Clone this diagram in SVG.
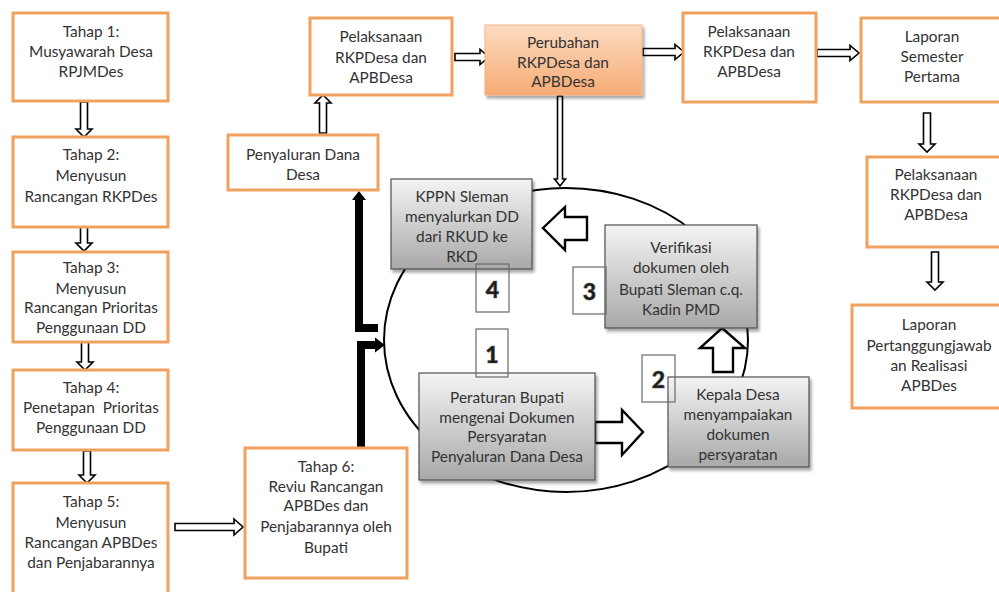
<svg xmlns="http://www.w3.org/2000/svg" width="999" height="592" viewBox="0 0 999 592">
  <defs>
    <linearGradient id="greyFill" x1="0" y1="0" x2="0" y2="1">
      <stop offset="0" stop-color="#f4f4f4"/>
      <stop offset="1" stop-color="#a8a8a8"/>
    </linearGradient>
    <linearGradient id="peachFill" x1="0" y1="0" x2="0" y2="1">
      <stop offset="0" stop-color="#fcdcc2"/>
      <stop offset="1" stop-color="#f7ab74"/>
    </linearGradient>
    <filter id="shadow" x="-10%" y="-10%" width="125%" height="130%">
      <feDropShadow dx="2" dy="3" stdDeviation="1.8" flood-color="#000" flood-opacity="0.35"/>
    </filter>
    <style>
      .ob { fill: #fff; stroke: #f1a15f; stroke-width: 3; }
      .gb { fill: url(#greyFill); stroke: #505050; stroke-width: 1.2; filter: url(#shadow); }
      .pb { fill: url(#peachFill); stroke: #f4b183; stroke-width: 1; filter: url(#shadow); }
      .nb { fill: none; stroke: #6a6a6a; stroke-width: 1.2; }
      .t { font-family: Lato, "Liberation Sans", sans-serif; font-size: 15.4px; fill: #333; text-anchor: middle; }
      .n { font-family: Lato, "Liberation Sans", sans-serif; font-size: 23px; font-weight: 900; fill: #1a1a1a; text-anchor: middle; stroke: #555; stroke-width: 0.6; }
      .ha { fill: #fff; stroke: #000; stroke-width: 1.6; stroke-linejoin: miter; }
      .ba { fill: #fff; stroke: #000; stroke-width: 2.4; stroke-linejoin: miter; }
      .thick { fill: none; stroke: #000; stroke-width: 8; stroke-linejoin: miter; }
    </style>
  </defs>

  <!-- cycle ring -->
  <ellipse cx="566" cy="340" rx="182" ry="152" fill="none" stroke="#000" stroke-width="2"/>

  <!-- connectors -->
  <g id="connectors">
    <!-- left column, downward -->
    <path class="ha" d="M80.5,102 V129 H76 L84,137 L92,129 H87.5 V102 Z"/>
    <path class="ha" d="M80.5,227 V243 H76 L84,251 L92,243 H87.5 V227 Z"/>
    <path class="ha" d="M81.5,342 V362 H77 L85,370 L93,362 H88.5 V342 Z"/>
    <path class="ha" d="M83.5,451 V475 H79 L87,483 L95,475 H90.5 V451 Z"/>
    <!-- Tahap 5 to Tahap 6 -->
    <path class="ha" d="M175,523.5 H234 V519 L243,527 L234,535 V530.5 H175 Z"/>
    <!-- Penyaluran up to Pelaksanaan -->
    <path class="ha" d="M319.5,133 V103 H315 L323,95 L331,103 H326.5 V133 Z"/>
    <!-- top row, rightward -->
    <path class="ha" d="M455,53.5 H480 V49.5 L489,57 L480,64.5 V60.5 H455 Z"/>
    <path class="ha" d="M643,48.5 H675 V44.5 L684,52 L675,59.5 V55.5 H643 Z"/>
    <path class="ha" d="M817,49.5 H850 V45.5 L859,53 L850,60.5 V56.5 H817 Z"/>
    <!-- right column, downward -->
    <path class="ha" d="M923.5,113 V144 H919 L927,152 L935,144 H930.5 V113 Z"/>
    <path class="ha" d="M931.5,252 V282 H927 L935,290 L943,282 H938.5 V252 Z"/>
    <!-- Perubahan down into the cycle -->
    <path class="ha" d="M557.5,96 V179 H554.5 L560,186 L565.5,179 H562.5 V96 Z"/>
    <!-- thick elbow lines from Tahap 6 -->
    <path class="thick" d="M359,199 V328 H378"/>
    <polygon points="352,200 366,200 359,191" fill="#000"/>
    <path class="thick" d="M361,448 V345 H376"/>
    <polygon points="375,337.5 385,345 375,352.5" fill="#000"/>
    <!-- block arrows inside the cycle -->
    <path class="ba" d="M543,228 L565,207 V217 H587 V240 H565 V250 Z"/>
    <path class="ba" d="M595,422 H622 V410 L643,432 L622,455 V443 H595 Z"/>
    <path class="ba" d="M722,328 L745,348 H733 V372 H713 V348 H700 Z"/>
  </g>

  <!-- left column -->
  <g id="tahap1">
    <rect class="ob" x="13" y="13" width="155" height="88"/>
    <text class="t" x="91" y="37">Tahap 1:</text>
    <text class="t" x="91" y="57">Musyawarah Desa</text>
    <text class="t" x="91" y="77">RPJMDes</text>
  </g>
  <g id="tahap2">
    <rect class="ob" x="13" y="137" width="155" height="90"/>
    <text class="t" x="91" y="160">Tahap 2:</text>
    <text class="t" x="91" y="181">Menyusun</text>
    <text class="t" x="91" y="202">Rancangan RKPDes</text>
  </g>
  <g id="tahap3">
    <rect class="ob" x="13" y="252" width="155" height="90"/>
    <text class="t" x="91" y="273">Tahap 3:</text>
    <text class="t" x="91" y="294">Menyusun</text>
    <text class="t" x="91" y="313">Rancangan Prioritas</text>
    <text class="t" x="91" y="333">Penggunaan DD</text>
  </g>
  <g id="tahap4">
    <rect class="ob" x="13" y="370" width="155" height="80"/>
    <text class="t" x="91" y="393">Tahap 4:</text>
    <text class="t" x="91" y="413">Penetapan&#160; Prioritas</text>
    <text class="t" x="91" y="433">Penggunaan DD</text>
  </g>
  <g id="tahap5">
    <rect class="ob" x="13" y="483" width="155" height="120"/>
    <text class="t" x="91" y="507">Tahap 5:</text>
    <text class="t" x="91" y="528">Menyusun</text>
    <text class="t" x="91" y="548">Rancangan APBDes</text>
    <text class="t" x="91" y="568">dan Penjabarannya</text>
  </g>
  <g id="tahap6">
    <rect class="ob" x="245" y="448" width="162" height="130"/>
    <text class="t" x="326" y="472">Tahap 6:</text>
    <text class="t" x="326" y="492">Reviu Rancangan</text>
    <text class="t" x="326" y="511">APBDes dan</text>
    <text class="t" x="326" y="532">Penjabarannya oleh</text>
    <text class="t" x="326" y="553">Bupati</text>
  </g>

  <!-- top row -->
  <g id="penyaluran">
    <rect class="ob" x="228" y="135" width="150" height="55"/>
    <text class="t" x="303" y="160">Penyaluran Dana</text>
    <text class="t" x="303" y="180">Desa</text>
  </g>
  <g id="pelaksanaan1">
    <rect class="ob" x="310" y="18" width="142" height="77"/>
    <text class="t" x="381" y="42">Pelaksanaan</text>
    <text class="t" x="381" y="63">RKPDesa dan</text>
    <text class="t" x="381" y="83">APBDesa</text>
  </g>
  <g id="perubahan">
    <rect class="pb" x="485" y="25" width="157" height="70"/>
    <text class="t" x="563" y="48">Perubahan</text>
    <text class="t" x="563" y="68">RKPDesa dan</text>
    <text class="t" x="563" y="87">APBDesa</text>
  </g>
  <g id="pelaksanaan2">
    <rect class="ob" x="683" y="13" width="133" height="89"/>
    <text class="t" x="749" y="37">Pelaksanaan</text>
    <text class="t" x="749" y="57">RKPDesa dan</text>
    <text class="t" x="749" y="77">APBDesa</text>
  </g>

  <!-- right column -->
  <g id="laporan-semester">
    <rect class="ob" x="861" y="18" width="145" height="84"/>
    <text class="t" x="932" y="42">Laporan</text>
    <text class="t" x="932" y="62">Semester</text>
    <text class="t" x="932" y="82">Pertama</text>
  </g>
  <g id="pelaksanaan3">
    <rect class="ob" x="867" y="157" width="139" height="90"/>
    <text class="t" x="936" y="180">Pelaksanaan</text>
    <text class="t" x="936" y="200">RKPDesa dan</text>
    <text class="t" x="936" y="220">APBDesa</text>
  </g>
  <g id="laporan-pertanggungjawaban">
    <rect class="ob" x="852" y="305" width="154" height="103"/>
    <text class="t" x="929" y="330">Laporan</text>
    <text class="t" x="929" y="351">Pertanggungjawab</text>
    <text class="t" x="929" y="371">an Realisasi</text>
    <text class="t" x="929" y="391">APBDes</text>
  </g>

  <!-- cycle steps -->
  <g id="kppn">
    <rect class="gb" x="391" y="179" width="141" height="90"/>
    <text class="t" x="462" y="202">KPPN Sleman</text>
    <text class="t" x="462" y="222">menyalurkan DD</text>
    <text class="t" x="462" y="242">dari RKUD ke</text>
    <text class="t" x="462" y="262">RKD</text>
  </g>
  <g id="verifikasi">
    <rect class="gb" x="605" y="225" width="152" height="103"/>
    <text class="t" x="681" y="253">Verifikasi</text>
    <text class="t" x="681" y="273">dokumen oleh</text>
    <text class="t" x="681" y="295">Bupati Sleman c.q.</text>
    <text class="t" x="681" y="315">Kadin PMD</text>
  </g>
  <g id="peraturan">
    <rect class="gb" x="419" y="373" width="176" height="107"/>
    <text class="t" x="507" y="403">Peraturan Bupati</text>
    <text class="t" x="507" y="423">mengenai Dokumen</text>
    <text class="t" x="507" y="442">Persyaratan</text>
    <text class="t" x="507" y="462">Penyaluran Dana Desa</text>
  </g>
  <g id="kepala-desa">
    <rect class="gb" x="668" y="377" width="141" height="90"/>
    <text class="t" x="738" y="400">Kepala Desa</text>
    <text class="t" x="738" y="420">menyampaiakan</text>
    <text class="t" x="738" y="440">dokumen</text>
    <text class="t" x="738" y="460">persyaratan</text>
  </g>

  <!-- step numbers -->
  <g id="step4">
    <rect class="nb" x="476" y="264" width="33" height="48"/>
    <text class="n" x="492.5" y="298">4</text>
  </g>
  <g id="step3">
    <rect class="nb" x="573" y="267" width="33" height="47"/>
    <text class="n" x="589.5" y="300">3</text>
  </g>
  <g id="step1">
    <rect class="nb" x="476" y="329" width="32" height="48"/>
    <text class="n" x="492" y="363">1</text>
  </g>
  <g id="step2">
    <rect class="nb" x="642" y="355" width="33" height="47"/>
    <text class="n" x="658.5" y="388">2</text>
  </g>
</svg>
